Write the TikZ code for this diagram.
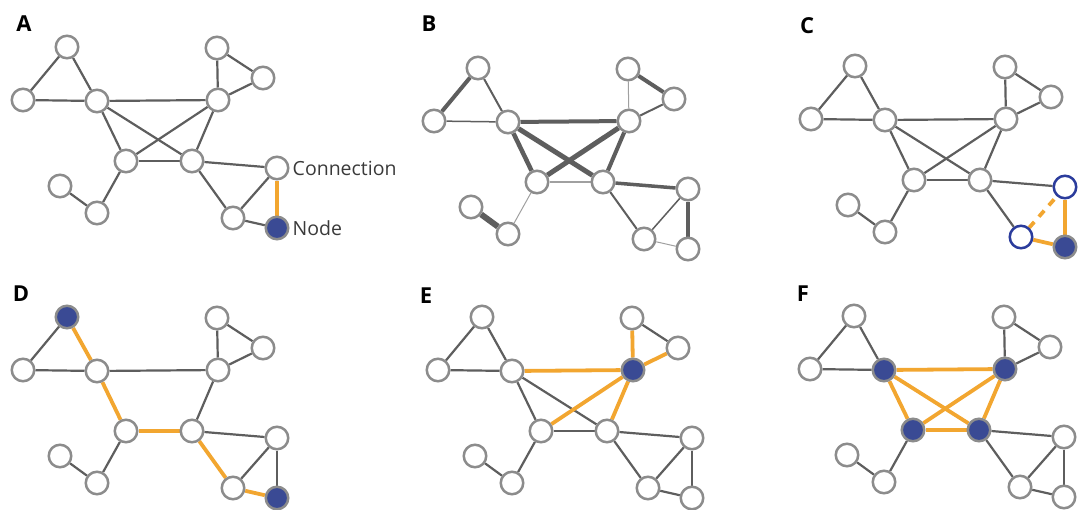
\documentclass[tikz,border=0pt]{standalone}
\usepackage{fontspec}
\setmainfont{Open Sans}
\usetikzlibrary{backgrounds}
\definecolor{ndgray}{HTML}{8C8C8C}
\definecolor{egray}{HTML}{5E5E5E}
\definecolor{lgray}{HTML}{A0A0A0}
\definecolor{eorange}{HTML}{F2A630}
\definecolor{nblue}{HTML}{3A4A94}
\definecolor{rblue}{HTML}{2B3C9C}
\definecolor{txtgray}{HTML}{3A3A3A}
\tikzset{
  nd/.style={circle, draw=ndgray, line width=2.5pt, fill=white, minimum size=22.5pt, inner sep=0pt},
  full/.style={fill=nblue},
  ring/.style={draw=rblue},
  ed/.style={draw=egray, line width=2.2pt},
  hl/.style={draw=eorange, line width=3.8pt},
  hldash/.style={draw=eorange, line width=3.8pt, dash pattern=on 8pt off 7pt, dash phase=-4pt},
  panel/.style={font=\bfseries\fontsize{22}{22}\selectfont, inner sep=0pt},
  txt/.style={font=\fontsize{19.5}{19.5}\selectfont, text=txtgray, inner sep=1pt},
  n1/.style={}, n2/.style={}, n3/.style={}, n4/.style={}, n5/.style={},
  n6/.style={}, n7/.style={}, n8/.style={}, n9/.style={}, n10/.style={},
  n11/.style={}, n12/.style={}, n13/.style={},
  e1-2/.style={}, e1-3/.style={}, e2-3/.style={}, e3-6/.style={}, e3-7/.style={},
  e3-8/.style={}, e6-7/.style={}, e6-8/.style={}, e4-6/.style={}, e4-5/.style={},
  e5-6/.style={}, e7-8/.style={}, e7-11/.style={}, e10-11/.style={}, e8-9/.style={},
  e8-12/.style={}, e9-12/.style={}, e9-13/.style={}, e12-13/.style={}
}
\newcommand\netnodes[1]{%
  \node[nd,n1] (#1-1) at (67,47) {};
  \node[nd,n2] (#1-2) at (23,100) {};
  \node[nd,n3] (#1-3) at (97,101) {};
  \node[nd,n4] (#1-4) at (217,48) {};
  \node[nd,n5] (#1-5) at (263,78) {};
  \node[nd,n6] (#1-6) at (218,100) {};
  \node[nd,n7] (#1-7) at (126,161) {};
  \node[nd,n8] (#1-8) at (192,161) {};
  \node[nd,n9] (#1-9) at (277,168) {};
  \node[nd,n10] (#1-10) at (60,186) {};
  \node[nd,n11] (#1-11) at (97,213) {};
  \node[nd,n12] (#1-12) at (233,218) {};
  \node[nd,n13] (#1-13) at (277,228) {};
}
\newcommand\netbase[1]{%
  \draw[ed,e1-2] (#1-1) -- (#1-2);
  \draw[ed,e1-3] (#1-1) -- (#1-3);
  \draw[ed,e2-3] (#1-2) -- (#1-3);
  \draw[ed,e3-6] (#1-3) -- (#1-6);
  \draw[ed,e3-7] (#1-3) -- (#1-7);
  \draw[ed,e6-8] (#1-6) -- (#1-8);
  \draw[ed,e4-6] (#1-4) -- (#1-6);
  \draw[ed,e4-5] (#1-4) -- (#1-5);
  \draw[ed,e5-6] (#1-5) -- (#1-6);
  \draw[ed,e7-8] (#1-7) -- (#1-8);
  \draw[ed,e7-11] (#1-7) -- (#1-11);
  \draw[ed,e10-11] (#1-10) -- (#1-11);
  \draw[ed,e8-9] (#1-8) -- (#1-9);
  \draw[ed,e8-12] (#1-8) -- (#1-12);
  \draw[ed,e9-12] (#1-9) -- (#1-12);
  \draw[ed,e9-13] (#1-9) -- (#1-13);
  \draw[ed,e12-13] (#1-12) -- (#1-13);
}
\newcommand\netcross[1]{%
  \draw[ed,e3-8] (#1-3) -- (#1-8);
  \draw[ed,e6-7] (#1-6) -- (#1-7);
}
\begin{document}
\begin{tikzpicture}[x=1pt,y=-1pt]
\useasboundingbox (0,0) rectangle (1078,509);

% ---------- A ----------
\node[panel] (LA) at (24,24) {A};
\begin{scope}[n13/.style={full}, e9-13/.style={hl}]
  \netnodes{A}
  \begin{pgfonlayer}{background}
    \netbase{A}\netcross{A}
  \end{pgfonlayer}
  \node[txt, anchor=west, xshift=2pt] (tc) at (A-9.east) {Connection};
  \node[txt, anchor=west, xshift=2pt] (tn) at (A-13.east) {Node};
\end{scope}

% ---------- B ----------
\node[panel] (LB) at (429,24) {B};
\begin{scope}[shift={(411,21)},
  e1-2/.style={line width=4pt}, e1-3/.style={line width=2pt}, e2-3/.style={line width=1.5pt},
  e3-6/.style={line width=4pt}, e3-7/.style={line width=4.5pt}, e3-8/.style={line width=5pt},
  e6-7/.style={line width=5pt}, e6-8/.style={line width=4pt}, e4-6/.style={line width=1pt, draw=lgray},
  e4-5/.style={line width=4pt}, e5-6/.style={line width=2pt}, e7-8/.style={line width=1.5pt, draw=lgray},
  e7-11/.style={line width=1pt, draw=lgray}, e10-11/.style={line width=6pt}, e8-9/.style={line width=3.5pt},
  e8-12/.style={line width=2pt}, e9-12/.style={line width=1.5pt}, e9-13/.style={line width=4pt},
  e12-13/.style={line width=1pt, draw=lgray}]
  \netnodes{B}
  \begin{pgfonlayer}{background}
    \netbase{B}\netcross{B}
  \end{pgfonlayer}
\end{scope}

% ---------- C ----------
\node[panel] (LC) at (807,26) {C};
\begin{scope}[shift={(788,19)}, n13/.style={full}, n9/.style={ring}, n12/.style={ring},
  e9-13/.style={hl}, e12-13/.style={hl}, e9-12/.style={hldash}]
  \netnodes{C}
  \begin{pgfonlayer}{background}
    \netbase{C}\netcross{C}
  \end{pgfonlayer}
\end{scope}

% ---------- D ----------
\node[panel] (LD) at (21,294) {D};
\begin{scope}[shift={(0,270)}, n1/.style={full}, n13/.style={full},
  e1-3/.style={hl}, e3-7/.style={hl}, e7-8/.style={hl}, e8-12/.style={hl}, e12-13/.style={hl}]
  \netnodes{D}
  \begin{pgfonlayer}{background}
    \netbase{D}
  \end{pgfonlayer}
\end{scope}

% ---------- E ----------
\node[panel] (LE) at (426,296) {E};
\begin{scope}[shift={(415,270)}, n6/.style={full},
  e3-6/.style={hl}, e6-7/.style={hl}, e6-8/.style={hl}, e4-6/.style={hl}, e5-6/.style={hl}]
  \netnodes{E}
  \begin{pgfonlayer}{background}
    \netbase{E}\netcross{E}
  \end{pgfonlayer}
\end{scope}

% ---------- F ----------
\node[panel] (LF) at (803,294) {F};
\begin{scope}[shift={(787,269)}, n3/.style={full}, n6/.style={full}, n7/.style={full}, n8/.style={full},
  e3-6/.style={hl}, e3-7/.style={hl}, e3-8/.style={hl}, e6-7/.style={hl}, e6-8/.style={hl}, e7-8/.style={hl}]
  \netnodes{F}
  \begin{pgfonlayer}{background}
    \netbase{F}\netcross{F}
  \end{pgfonlayer}
\end{scope}
\end{tikzpicture}
\end{document}
